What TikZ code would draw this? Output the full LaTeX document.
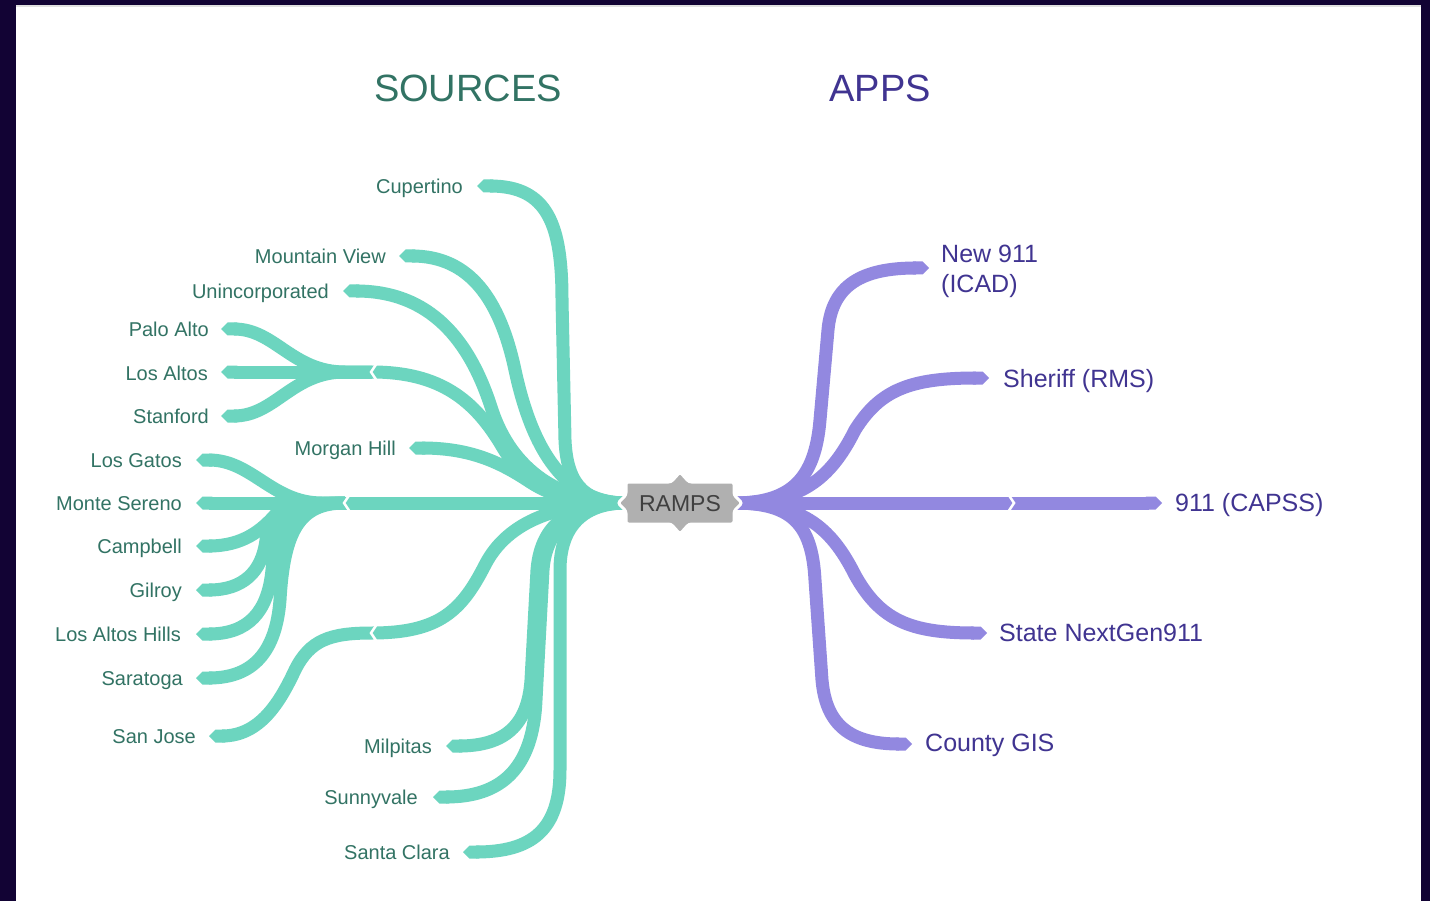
\documentclass[tikz,border=0pt]{standalone}
\usepackage{fontspec}
\setmainfont{Liberation Sans}
\usetikzlibrary{arrows.meta}
\definecolor{frame}{RGB}{18,3,52}
\definecolor{tealline}{RGB}{108,213,191}
\definecolor{tealtext}{RGB}{50,115,100}
\definecolor{purpline}{RGB}{146,136,224}
\definecolor{purptext}{RGB}{64,52,145}
\definecolor{boxgray}{RGB}{176,176,176}
\definecolor{boxtext}{RGB}{64,64,64}
\begin{document}
\begin{tikzpicture}[x=1pt,y=-1pt,
  srcline/.style={draw=tealline, line width=13pt, {Triangle Cap[]}-},
  srcmain/.style={draw=tealline, line width=13pt},
  appline/.style={draw=purpline, line width=13pt, -{Triangle Cap[]}},
  notch/.style={draw=white, line width=2.5pt},
  tlabel/.style={text=tealtext, font=\fontsize{20}{24}\selectfont, inner sep=0pt, text height=14.3pt, text depth=0pt, anchor=east},
  alabel/.style={text=purptext, font=\fontsize{25}{30}\selectfont, inner sep=0pt, text height=17.9pt, text depth=0pt, anchor=west},
  title/.style={font=\fontsize{38}{44}\selectfont, inner sep=0pt, text height=27.2pt, text depth=0pt}
]
\useasboundingbox (0,0) rectangle (1430,901);
\fill[frame] (0,0) rectangle (1430,901);
\fill[white] (16,5) rectangle (1421,901);
\draw[black!12, line width=1.5pt] (16,6) -- (1421,6);

% titles
\node[title, text=tealtext] (tsrc) at (468,88) {SOURCES};
\node[title, text=purptext] (tapp) at (880,88) {APPS};

% hub coordinates
\coordinate (hubL) at (626,503);
\coordinate (hubR) at (734,503);
\coordinate (subA) at (372,372);
\coordinate (subB) at (345,503);
\coordinate (subC) at (372,633);

% source tips
\coordinate (pCup) at (477,186);
\coordinate (pMV) at (399,256);
\coordinate (pUn) at (343,291);
\coordinate (pPA) at (221,329);
\coordinate (pLA) at (221,372);
\coordinate (pSt) at (221,416);
\coordinate (pMH) at (409,448);
\coordinate (pLG) at (196,460);
\coordinate (pMS) at (196,503);
\coordinate (pCa) at (196,546);
\coordinate (pGi) at (196,590);
\coordinate (pLAH) at (196,634);
\coordinate (pSa) at (196,678);
\coordinate (pSJ) at (209,736);
\coordinate (pMi) at (446,746);
\coordinate (pSu) at (433,797);
\coordinate (pSC) at (463,852);

% app tips
\coordinate (aNew) at (929,268);
\coordinate (aSh) at (989,378);
\coordinate (aCap) at (1162,503);
\coordinate (aSt) at (987,633);
\coordinate (aGIS) at (912,744);

% teal connectors to central hub
\draw[srcline] (pCup) .. controls (548,186) and (562,225) .. (562,300) -- (565,440) .. controls (567,490) and (590,503) .. (hubL);
\draw[srcline] (pMV) .. controls (470,256) and (500,300) .. (515,370) .. controls (530,440) and (560,503) .. (hubL);
\draw[srcline] (pUn) .. controls (430,291) and (470,340) .. (492,410) .. controls (512,470) and (560,503) .. (hubL);
\draw[srcmain] (subA) .. controls (440,372) and (475,400) .. (503,448) .. controls (528,490) and (570,503) .. (hubL);
\draw[srcline] (pMH) .. controls (470,448) and (500,462) .. (530,482) .. controls (555,498) and (580,503) .. (hubL);
\draw[srcmain] (subB) -- (hubL);
\draw[srcmain] (subC) .. controls (440,633) and (462,610) .. (485,565) .. controls (508,520) and (560,503) .. (hubL);
\draw[srcline] (pMi) .. controls (505,746) and (528,725) .. (531,680) -- (537,570) .. controls (541,520) and (575,503) .. (hubL);
\draw[srcline] (pSu) .. controls (500,797) and (533,770) .. (536,700) -- (543,570) .. controls (546,525) and (580,503) .. (hubL);
\draw[srcline] (pSC) .. controls (532,852) and (560,830) .. (560,770) -- (560,570) .. controls (560,525) and (585,503) .. (hubL);

% sub-hub A leaves
\draw[srcline] (pPA) .. controls (275,329) and (292,372) .. (345,372) -- (subA);
\draw[srcline] (pLA) -- (subA);
\draw[srcline] (pSt) .. controls (275,416) and (292,372) .. (345,372) -- (subA);

% sub-hub B leaves
\draw[srcline] (pLG) .. controls (252,460) and (272,503) .. (322,503) -- (subB);
\draw[srcline] (pMS) -- (subB);
\draw[srcline] (pCa) .. controls (243,546) and (262,530) .. (276,514) .. controls (284,505) and (300,503) .. (subB);
\draw[srcline] (pGi) .. controls (243,590) and (262,572) .. (266,540) .. controls (270,510) and (292,503) .. (subB);
\draw[srcline] (pLAH) .. controls (248,634) and (268,612) .. (272,570) .. controls (276,520) and (296,503) .. (subB);
\draw[srcline] (pSa) .. controls (253,678) and (276,652) .. (280,600) .. controls (284,530) and (300,503) .. (subB);

% sub-hub C leaf
\draw[srcline] (pSJ) .. controls (260,736) and (280,702) .. (295,670) .. controls (310,640) and (330,633) .. (subC);

% notches at sub-hubs
\draw[notch] (377,363) -- (371,372) -- (377,381);
\draw[notch] (350,494) -- (344,503) -- (350,512);
\draw[notch] (377,624) -- (371,633) -- (377,642);

% purple connectors
\draw[appline] (hubR) .. controls (790,503) and (815,480) .. (820,420) -- (828,330) .. controls (832,285) and (862,268) .. (aNew);
\draw[appline] (hubR) .. controls (800,503) and (830,480) .. (855,430) .. controls (880,390) and (910,378) .. (aSh);
\draw[appline] (hubR) -- (aCap);
\draw[appline] (hubR) .. controls (800,503) and (830,525) .. (855,575) .. controls (880,620) and (910,633) .. (aSt);
\draw[appline] (hubR) .. controls (790,503) and (812,522) .. (815,580) -- (822,680) .. controls (826,725) and (850,744) .. (aGIS);
\draw[notch] (1008,494) -- (1014,503) -- (1008,512);

% central RAMPS box
\path[draw=white, line width=3pt, fill=boxgray, rounded corners=2.5pt]
  (626,482) -- (671,482) -- (680,472) -- (689,482) -- (734,482) -- (734,495) -- (742,503) -- (734,511)
  -- (734,524) -- (689,524) -- (680,534) -- (671,524) -- (626,524) -- (626,511) -- (618,503) -- (626,495) -- cycle;
\node[text=boxtext, font=\fontsize{23}{27}\selectfont, inner sep=0pt, text height=16.5pt, text depth=0pt] (ramps) at (680,503) {RAMPS};

% source labels
\node[tlabel] (lCup) at (463,186) {Cupertino};
\node[tlabel] (lMV) at (386,256) {Mountain View};
\node[tlabel] (lUn) at (329,291) {Unincorporated};
\node[tlabel] (lPA) at (209,329) {Palo Alto};
\node[tlabel] (lLA) at (208,373) {Los Altos};
\node[tlabel] (lSt) at (209,416) {Stanford};
\node[tlabel] (lMH) at (396,448) {Morgan Hill};
\node[tlabel] (lLG) at (182,460) {Los Gatos};
\node[tlabel] (lMS) at (182,503) {Monte Sereno};
\node[tlabel] (lCa) at (182,546) {Campbell};
\node[tlabel] (lGi) at (182,590) {Gilroy};
\node[tlabel] (lLAH) at (181,634) {Los Altos Hills};
\node[tlabel] (lSa) at (183,678) {Saratoga};
\node[tlabel] (lSJ) at (196,736) {San Jose};
\node[tlabel] (lMi) at (432,746) {Milpitas};
\node[tlabel] (lSu) at (418,797) {Sunnyvale};
\node[tlabel] (lSC) at (450,852) {Santa Clara};

% app labels
\node[alabel] (lNew) at (941,254) {New 911};
\node[alabel] (lNew2) at (941,284) {(ICAD)};
\node[alabel] (lSh) at (1003,379) {Sheriff (RMS)};
\node[alabel] (lCap) at (1175,503) {911 (CAPSS)};
\node[alabel] (lSt2) at (999,633) {State NextGen911};
\node[alabel] (lGIS) at (925,743) {County GIS};
\end{tikzpicture}
\end{document}
